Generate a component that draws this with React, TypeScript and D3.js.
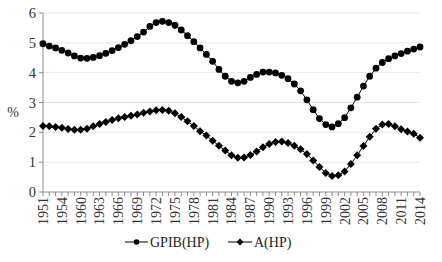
import * as d3 from 'd3';

// years in the source table (1955-1957 are not in it)
const years: number[] = [1951, 1952, 1953, 1954, ...d3.range(1958, 2015)];

const gpib: number[] = [
  4.97, 4.89, 4.83, 4.75, 4.66, 4.56, 4.49, 4.48, 4.51, 4.57,
  4.65, 4.74, 4.84, 4.95, 5.07, 5.21, 5.36, 5.55, 5.68, 5.72,
  5.68, 5.59, 5.43, 5.24, 5.04, 4.83, 4.61, 4.38, 4.11, 3.88,
  3.71, 3.66, 3.71, 3.84, 3.94, 4.02, 4.02, 3.99, 3.91, 3.80,
  3.62, 3.39, 3.09, 2.76, 2.46, 2.26, 2.18, 2.29, 2.49, 2.82,
  3.18, 3.55, 3.88, 4.15, 4.34, 4.47, 4.56, 4.64, 4.72, 4.79,
  4.86,
];

const ahp: number[] = [
  2.21, 2.20, 2.18, 2.15, 2.11, 2.09, 2.09, 2.12, 2.20, 2.28,
  2.35, 2.41, 2.47, 2.51, 2.56, 2.60, 2.66, 2.70, 2.74, 2.75,
  2.72, 2.64, 2.51, 2.37, 2.21, 2.04, 1.89, 1.72, 1.55, 1.39,
  1.23, 1.15, 1.16, 1.24, 1.36, 1.50, 1.61, 1.68, 1.69, 1.64,
  1.55, 1.43, 1.27, 1.06, 0.84, 0.64, 0.54, 0.56, 0.69, 0.94,
  1.23, 1.54, 1.85, 2.12, 2.26, 2.28, 2.20, 2.10, 2.03, 1.95,
  1.82,
];

const yTicks: number[] = [0, 1, 2, 3, 4, 5, 6];

const W = 442;
const H = 262;
const font = '"Liberation Serif", "Times New Roman", serif';

const diamond = (cx: number, cy: number, r: number) =>
  `M${cx},${cy - r}L${cx + r},${cy}L${cx},${cy + r}L${cx - r},${cy}Z`;

export default function App() {
  const margin = { top: 13, left: 43, right: 22, bottom: 70 };

  const x = d3
    .scalePoint<number>()
    .domain(years)
    .range([margin.left, W - margin.right]);

  const y = d3
    .scaleLinear()
    .domain([0, 6])
    .range([H - margin.bottom, margin.top]);

  const line = d3
    .line<number>()
    .x((_, i) => x(years[i]) as number)
    .y(d => y(d));

  const y0 = y(0);
  const labelYears = years.filter((_, i) => i % 3 === 0);

  return (
    <svg
      width={W}
      height={H}
      style={{ position: 'absolute', left: 0, top: 0, background: '#fff' }}
      fontFamily={font}
    >
      {/* gridlines */}
      {yTicks.slice(1).map(t => (
        <line
          key={'g' + t}
          x1={margin.left}
          x2={W - margin.right}
          y1={y(t)}
          y2={y(t)}
          stroke="#e6e6e6"
          strokeWidth={1}
        />
      ))}

      {/* y axis */}
      <line x1={margin.left} x2={margin.left} y1={margin.top} y2={y0} stroke="#8c8c8c" />
      {yTicks.map(t => (
        <g key={'y' + t}>
          <line x1={margin.left - 4} x2={margin.left} y1={y(t)} y2={y(t)} stroke="#8c8c8c" />
          <text
            x={margin.left - 7}
            y={y(t)}
            dy="0.35em"
            textAnchor="end"
            fontSize={14.5}
            fill="#333"
          >
            {t}
          </text>
        </g>
      ))}
      <text x={13} y={112} dy="0.35em" textAnchor="middle" fontSize={14} fill="#333">
        %
      </text>

      {/* x axis */}
      <line x1={margin.left} x2={W - margin.right} y1={y0} y2={y0} stroke="#8c8c8c" />
      {years.map(yr => (
        <line
          key={'t' + yr}
          x1={x(yr)}
          x2={x(yr)}
          y1={y0}
          y2={y0 + 4}
          stroke="#8c8c8c"
        />
      ))}
      {labelYears.map(yr => (
        <text
          key={'l' + yr}
          transform={`translate(${x(yr)},${y0 + 5}) rotate(-90)`}
          textAnchor="end"
          dy="0.35em"
          fontSize={14}
          fill="#333"
        >
          {yr}
        </text>
      ))}

      {/* GPIB(HP) */}
      <path d={line(gpib) || ''} fill="none" stroke="#000" strokeWidth={1} />
      {gpib.map((v, i) => (
        <circle key={'c' + i} cx={x(years[i])} cy={y(v)} r={3.4} fill="#000" />
      ))}

      {/* A(HP) */}
      <path d={line(ahp) || ''} fill="none" stroke="#000" strokeWidth={1} />
      {ahp.map((v, i) => (
        <path key={'d' + i} d={diamond(x(years[i]) as number, y(v), 4)} fill="#000" />
      ))}

      {/* legend */}
      <g transform="translate(0,242)">
        <line x1={125} x2={148} y1={0} y2={0} stroke="#000" />
        <circle cx={136.5} cy={0} r={2.8} fill="#000" />
        <text x={150} y={0} dy="0.35em" fontSize={14} fill="#222">
          GPIB(HP)
        </text>
        <line x1={228} x2={252} y1={0} y2={0} stroke="#000" />
        <path d={diamond(240, 0, 3.5)} fill="#000" />
        <text x={254} y={0} dy="0.35em" fontSize={14} fill="#222">
          A(HP)
        </text>
      </g>
    </svg>
  );
}
